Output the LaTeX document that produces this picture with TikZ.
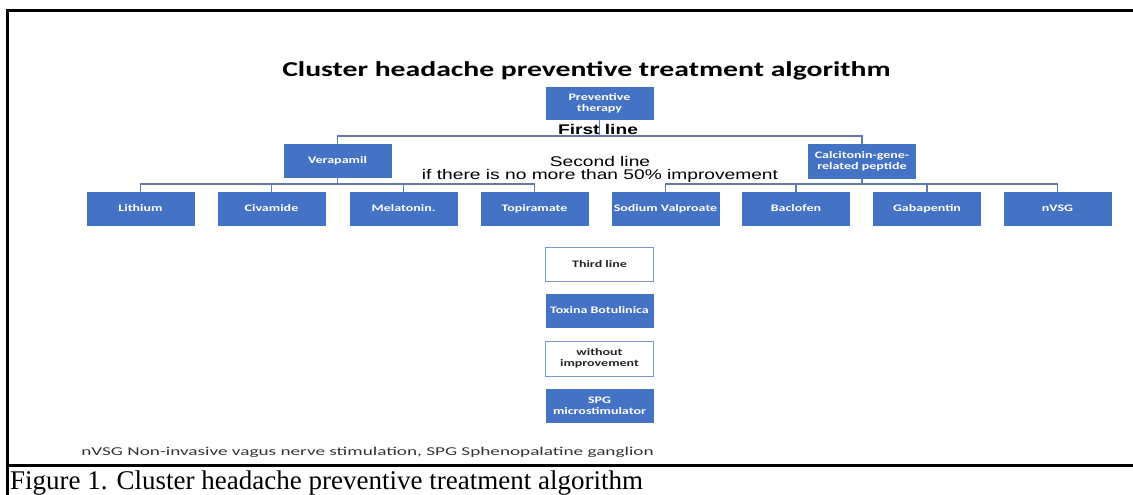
\documentclass[tikz,border=0pt]{standalone}
\usepackage{fontspec}
\setmainfont{Liberation Serif}
\newfontfamily\boxfont[FakeStretch=1.4]{Carlito}
\newfontfamily\notefont[FakeStretch=1.6]{Carlito}
\newfontfamily\armfont[FakeStretch=1.37]{Liberation Sans}
\usepackage{tikz}
\definecolor{boxblue}{RGB}{68,114,196}
\definecolor{connblue}{RGB}{96,124,172}
\definecolor{rimblue}{RGB}{120,150,210}

\begin{document}
\begin{tikzpicture}[x=1pt, y=-1pt,
	bluebox/.style={draw=boxblue, fill=boxblue, text=white, font=\boxfont\bfseries\fontsize{10}{11}\selectfont, minimum width=107pt, minimum height=33pt, inner sep=1pt, align=center},
	whitebox/.style={draw=rimblue, line width=1pt, fill=white, text=black!85, font=\boxfont\bfseries\fontsize{10}{11}\selectfont, minimum width=108pt, minimum height=34pt, inner sep=1pt, align=center},
	conn/.style={draw=connblue, line width=1.2pt}]
	\useasboundingbox (0,0) rectangle (1133,495);
	\draw [line width=3pt] (7,495) -- (7,11) -- (1133,11);
	\draw [line width=3pt] (7,465) -- (1133,465);

	\node (title) at (586.5,71) {\boxfont\bfseries\fontsize{21.2}{24}\selectfont Cluster headache preventive treatment algorithm};

	\node [bluebox, minimum height=32pt] (prev) at (599.5,103) {Preventive\\therapy};
	\node [font=\armfont\bfseries\fontsize{14}{16}\selectfont] (first) at (598,129) {First line};
	\coordinate (j1) at (599.5,136);
	\node [bluebox] (vera) at (337.5,160.5) {Verapamil};
	\node [bluebox, minimum height=34pt] (calc) at (862,161.5) {Calcitonin-gene-\\related peptide};
	\draw [conn] (prev.south) -- (j1);
	\draw [conn] (j1) -| (vera.north);
	\draw [conn] (j1) -| (calc.north);

	\node [font=\armfont\fontsize{14}{16}\selectfont] (second) at (600,161) {Second line};
	\node [font=\armfont\fontsize{14}{16}\selectfont] (cond) at (600,176) {if there is no more than 50\% improvement};

	\coordinate (j2) at (337.5,184);
	\coordinate (j3) at (862,184);
	\node [bluebox] (lith) at (140.5,208.5) {Lithium};
	\node [bluebox] (civa) at (271.5,208.5) {Civamide};
	\node [bluebox] (mela) at (403.5,208.5) {Melatonin.};
	\node [bluebox] (topi) at (534.5,208.5) {Topiramate};
	\node [bluebox] (valp) at (665.5,208.5) {Sodium Valproate};
	\node [bluebox] (bacl) at (796,208.5) {Baclofen};
	\node [bluebox] (gaba) at (927,208.5) {Gabapentin};
	\node [bluebox] (nvsg) at (1057.5,208.5) {nVSG};
	\draw [conn] (vera.south) -- (j2);
	\draw [conn] (j2) -| (lith.north);
	\draw [conn] (j2) -| (civa.north);
	\draw [conn] (j2) -| (mela.north);
	\draw [conn] (j2) -| (topi.north);
	\draw [conn] (calc.south) -- (j3);
	\draw [conn] (j3) -| (valp.north);
	\draw [conn] (j3) -| (bacl.north);
	\draw [conn] (j3) -| (gaba.north);
	\draw [conn] (j3) -| (nvsg.north);

	\node [whitebox] (third) at (599.5,264) {Third line};
	\node [bluebox] (toxi) at (599.5,310.5) {Toxina Botulinica};
	\node [whitebox, minimum height=35pt] (nofx) at (599.5,358.5) {without\\improvement};
	\node [bluebox] (spg) at (599.5,405.5) {SPG\\microstimulator};

	\node [font=\notefont\fontsize{12}{14}\selectfont, text=black!80] (note) at (367.5,452) {nVSG Non-invasive vagus nerve stimulation, SPG Sphenopalatine ganglion};
	\node [anchor=base west, inner sep=0pt, font=\fontsize{27}{30}\selectfont] (cap) at (10,489) {Figure 1. Cluster headache preventive treatment algorithm};
\end{tikzpicture}
\end{document}
